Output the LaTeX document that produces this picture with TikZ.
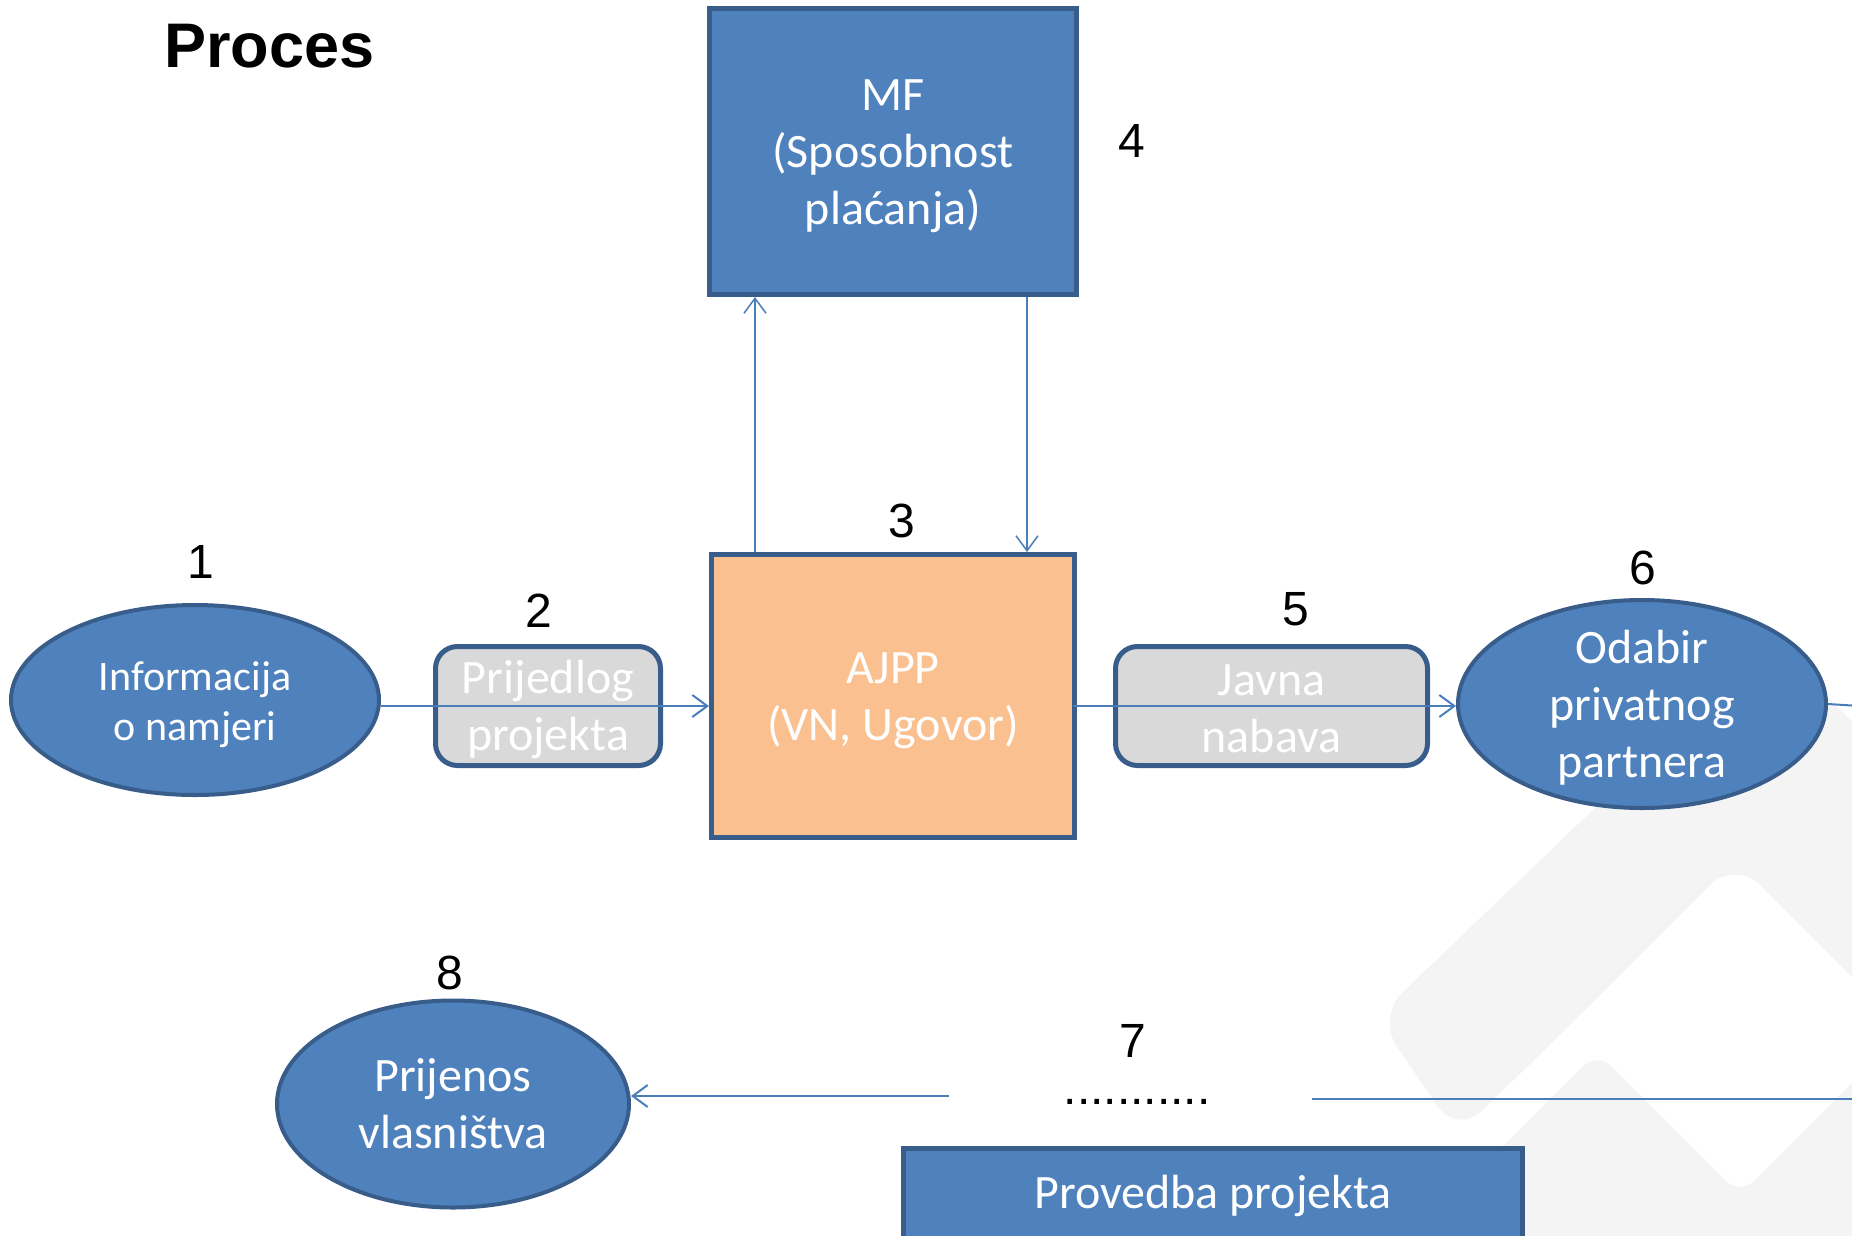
\documentclass[tikz,border=0pt]{standalone}
\usepackage{fontspec}
\setmainfont{Carlito}
\newfontfamily\arial{Liberation Sans}
\usetikzlibrary{shapes.geometric,arrows.meta}
\definecolor{blueF}{HTML}{4F81BD}
\definecolor{blueD}{HTML}{385D8A}
\definecolor{grayF}{HTML}{D9D9D9}
\definecolor{orangeF}{HTML}{FAC090}
\definecolor{lineC}{HTML}{4A7EBB}
\definecolor{wm}{RGB}{244,244,244}
\begin{document}
\begin{tikzpicture}[x=1pt,y=-1pt,
  txt/.style={text=white, align=center, font=\fontsize{48}{57}\selectfont},
  inlbl/.style={txt, yshift=-5pt},
  num/.style={anchor=base, inner sep=0, font=\arial\fontsize{48}{55}\selectfont},
  sq/.style={draw=blueD, line width=5pt, inner sep=0},
  pill/.style={draw=blueD, fill=grayF, line width=5pt, rounded corners=22pt, inner sep=0, minimum height=119},
  ell/.style={ellipse, draw=blueD, fill=blueF, line width=4pt, inner sep=0},
  conn/.style={draw=lineC, line width=2pt, -{Straight Barb[length=15pt,width=22pt]}},
  vconn/.style={draw=lineC, line width=1.5pt, -{Straight Barb[length=15pt,width=22pt]}},
  link/.style={draw=lineC, line width=2pt},
]
\useasboundingbox (0,0) rectangle (1852,1235);
\clip (0,0) rectangle (1852,1235);
\fill[white] (0,0) rectangle (1852,1235);

% watermark
\fill[wm, rounded corners=35pt] (1377,1017) -- (1770,640) -- (2100,970) -- (1990,1115) -- (1735,860) -- (1566,1029) -- (1457,1135) -- cycle;
\fill[wm, rounded corners=20pt] (1597,1052) -- (1740,1195) -- (1909,1026) -- (1960,1026) -- (1960,1300) -- (1350,1300) -- cycle;

% title
\node[anchor=base west, inner sep=0, font=\arial\bfseries\fontsize{63}{70}\selectfont] (title) at (164,67) {Proces};

% main nodes
\node[sq, fill=blueF, minimum width=367, minimum height=286,
  label={[inlbl]center:{MF\\(Sposobnost\\plaćanja)}}] (mf) at (893,151.5) {};
\node[sq, fill=orangeF, minimum width=363, minimum height=283,
  label={[inlbl]center:{AJPP\\(VN, Ugovor)}}] (ajpp) at (893,696) {};
\node[pill, minimum width=225,
  label={[inlbl, yshift=2pt]center:{Prijedlog\\projekta}}] (b2) at (548,706) {};
\node[pill, minimum width=312,
  label={[inlbl, yshift=2pt]center:{Javna\\nabava}}] (b5) at (1271.5,706) {};
\node[ell, minimum width=368, minimum height=190,
  label={[inlbl, font=\fontsize{42}{50}\selectfont]center:{Informacija\\o namjeri}}] (e1) at (195,700) {};
\node[ell, minimum width=368, minimum height=208,
  label={[inlbl, yshift=1pt]center:{Odabir\\privatnog\\partnera}}] (e6) at (1642,704) {};
\node[ell, minimum width=352, minimum height=207,
  label={[txt]center:{Prijenos\\vlasništva}}] (e8) at (453,1104) {};
\node[txt, draw=blueD, fill=blueF, line width=5pt, inner sep=0, minimum width=619, minimum height=110,
  text height=34pt, text depth=24pt, anchor=north] (prov) at (1213,1145.5) {Provedba projekta};

% numbers
\node[num] (n1) at (201,578) {1};
\node[num] (n2) at (539,627) {2};
\node[num] (n3) at (902,537) {3};
\node[num] (n4) at (1132,157) {4};
\node[num] (n5) at (1296,625) {5};
\node[num] (n6) at (1643,584) {6};
\node[num] (n7) at (1133,1057) {7};
\node[num] (n8) at (450,989) {8};
\node[num] (dots) at (1137,1104) {...........};

% helper coordinates
\coordinate (r1) at (0,706);
\coordinate (cu) at (755,0);
\coordinate (cd) at (1027,0);
\coordinate (offR) at (1860,706);
\coordinate (l7a) at (949,1096);
\coordinate (l7b) at (1312,1099);
\coordinate (offR2) at (1860,1099);

% connectors
\draw[conn] (e1.east |- r1) -- (ajpp.west |- r1);
\draw[conn] ([xshift=-4pt]ajpp.east |- r1) -- (e6.west |- r1);
\draw[link] (e6.east) -- (offR);
\draw[vconn] (ajpp.north -| cu) -- (mf.south -| cu);
\draw[vconn] (mf.south -| cd) -- (ajpp.north -| cd);
\draw[conn] (l7a) -- (e8.east |- l7a);
\draw[link] (l7b) -- (offR2);
\end{tikzpicture}
\end{document}
